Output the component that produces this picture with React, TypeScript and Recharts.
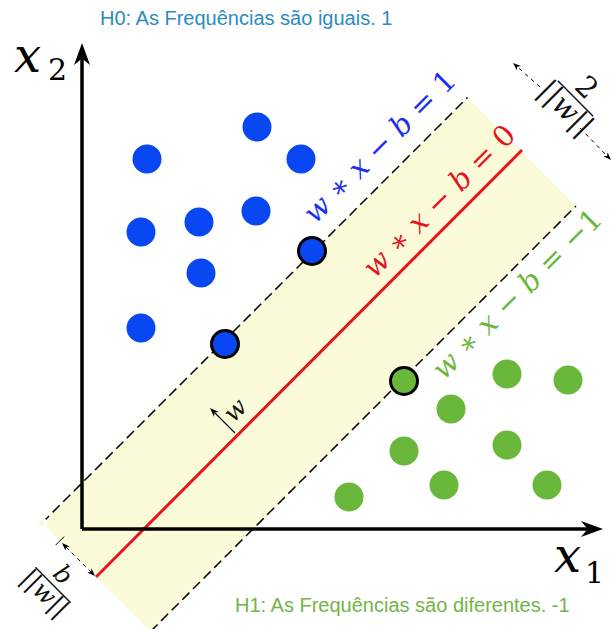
import React from 'react';
import { ComposedChart, XAxis, YAxis, Area, Scatter, ReferenceLine, ReferenceDot } from 'recharts';

// ---- data (units: 1 = 10px, origin at the axes corner) ----
const bluePoints = [
  { x: 17.5, y: 40.2 }, { x: 6.5, y: 37.0 }, { x: 21.9, y: 37.0 }, { x: 17.4, y: 31.8 },
  { x: 11.7, y: 30.7 }, { x: 5.9, y: 29.7 }, { x: 11.9, y: 25.6 }, { x: 5.9, y: 20.1 },
];
const blueSupport = [{ x: 23.0, y: 27.8 }, { x: 14.3, y: 18.5 }];
const greenPoints = [
  { x: 42.5, y: 15.5 }, { x: 48.6, y: 14.9 }, { x: 36.9, y: 12.0 }, { x: 42.5, y: 8.4 },
  { x: 32.2, y: 7.8 }, { x: 26.7, y: 3.2 }, { x: 36.2, y: 4.4 }, { x: 46.5, y: 4.4 },
];
const greenSupport = [{ x: 32.2, y: 14.8 }];

const marginBand = [
  { x: -4.0, range: [0.6, 0.6] },
  { x: 6.85, range: [-10.25, 11.45] },
  { x: 38.55, range: [21.45, 43.15] },
  { x: 49.4, range: [32.3, 32.3] },
];

const upperMargin = [{ x: -4.0, y: 0.6 }, { x: 38.55, y: 43.15 }];
const hyperplane = [{ x: 1.4, y: -4.8 }, { x: 44.0, y: 37.9 }];
const lowerMargin = [{ x: 6.85, y: -10.25 }, { x: 49.4, y: 32.3 }];

const xAxisLine = [{ x: 0, y: 0 }, { x: 52.1, y: 0 }];
const yAxisLine = [{ x: 0, y: 0 }, { x: 0, y: 48.6 }];

const marginArrowA = [{ x: 45.8, y: 44.2 }, { x: 43.1, y: 46.6 }];
const marginArrowB = [{ x: 49.8, y: 40.1 }, { x: 52.9, y: 36.9 }];
const offsetArrow = [{ x: -2.0, y: -1.4 }, { x: 1.3, y: -4.7 }];
const normalArrow = [{ x: 15.3, y: 9.6 }, { x: 12.8, y: 12.1 }];

const titleTop = 'H0: As Frequências são iguais. 1';
const titleBottom = 'H1: As Frequências são diferentes. -1';
const eqPlus = [['w', 1], [' ', 0], ['∗', 2], [' ', 0], ['x', 1], [' − ', 0], ['b', 1], [' = 1', 0]];
const eqZero = [['w', 1], [' ', 0], ['∗', 2], [' ', 0], ['x', 1], [' − ', 0], ['b', 1], [' = 0', 0]];
const eqMinus = [['w', 1], [' ', 0], ['∗', 2], [' ', 0], ['x', 1], [' − ', 0], ['b', 1], [' = −1', 0]];

// ---- styles ----
const BLUE = '#0847f2';
const GREEN = '#69b83b';
const RED = '#e5141f';
const BAND = '#fbfbd9';
const SERIF = "'DejaVu Serif','Liberation Serif',serif";
const SANS = "'Liberation Sans',Arial,sans-serif";

function arrowHead(tx: number, ty: number, fx: number, fy: number, len: number, half: number) {
  const dx = tx - fx, dy = ty - fy;
  const d = Math.hypot(dx, dy) || 1;
  const ux = dx / d, uy = dy / d;
  const nx = -uy, ny = ux;
  const bx = tx - ux * len, by = ty - uy * len;
  const mx = tx - ux * len * 0.7, my = ty - uy * len * 0.7;
  return `M${tx},${ty} L${bx + nx * half},${by + ny * half} L${mx},${my} L${bx - nx * half},${by - ny * half} Z`;
}

type ArrowOpts = { stroke: string; width: number; dash?: string; end?: boolean; start?: boolean; len?: number; half?: number; tick?: boolean };

const arrowShape = (o: ArrowOpts) => (p: any) => {
  const { x1, y1, x2, y2 } = p;
  const len = o.len ?? 10, half = o.half ?? 4;
  const d = Math.hypot(x2 - x1, y2 - y1) || 1;
  const ux = (x2 - x1) / d, uy = (y2 - y1) / d;
  const sx = o.start ? x1 + ux * len * 0.7 : x1;
  const sy = o.start ? y1 + uy * len * 0.7 : y1;
  const ex = o.end ? x2 - ux * len * 0.7 : x2;
  const ey = o.end ? y2 - uy * len * 0.7 : y2;
  return (
    <g>
      <line x1={sx} y1={sy} x2={ex} y2={ey} stroke={o.stroke} strokeWidth={o.width} strokeDasharray={o.dash} />
      {o.end && <path d={arrowHead(x2, y2, x1, y1, len, half)} fill={o.stroke} />}
      {o.start && <path d={arrowHead(x1, y1, x2, y2, len, half)} fill={o.stroke} />}
      {o.tick && (
        <line x1={x1 - ux * 3 + uy * 6} y1={y1 - uy * 3 - ux * 6} x2={x1 - ux * 3 - uy * 6} y2={y1 - uy * 3 + ux * 6} stroke={o.stroke} strokeWidth={1} />
      )}
    </g>
  );
};

const plainLine = (stroke: string, width: number, dash?: string) => (p: any) => (
  <line x1={p.x1} y1={p.y1} x2={p.x2} y2={p.y2} stroke={stroke} strokeWidth={width} strokeDasharray={dash} />
);

const mathText = (parts: any[], size: number, color: string, angle: number) => (p: any) => (
  <text
    x={p.cx}
    y={p.cy}
    fill={color}
    fontSize={size}
    fontFamily={SERIF}
    textAnchor="middle"
    transform={`rotate(${angle} ${p.cx} ${p.cy})`}
  >
    {parts.map(([t, it]: any, i: number) => (
      <tspan key={i} fontStyle={it === 1 ? 'italic' : 'normal'} fontWeight="normal">{t}</tspan>
    ))}
  </text>
);

const plainText = (t: string, size: number, color: string, family: string, italic = false, anchor = 'start') => (p: any) => (
  <text x={p.cx} y={p.cy} fill={color} fontSize={size} fontFamily={family} fontStyle={italic ? 'italic' : 'normal'} textAnchor={anchor as any}>
    {t}
  </text>
);

const fraction = (num: string, numItalic: boolean, size: number) => (p: any) => (
  <g transform={`translate(${p.cx} ${p.cy}) rotate(45)`} fontFamily={SERIF} fill="#111">
    <text x={0} y={-6} textAnchor="middle" fontSize={size} fontStyle={numItalic ? 'italic' : 'normal'}>{num}</text>
    <line x1={-25} y1={0} x2={25} y2={0} stroke="#111" strokeWidth={1.4} />
    <text x={0} y={size * 0.8} textAnchor="middle" fontSize={size}>
      <tspan>||</tspan>
      <tspan fontStyle="italic">w</tspan>
      <tspan>||</tspan>
    </text>
  </g>
);

const dot = (fill: string, outline: boolean) => (p: any) => (
  <circle cx={p.cx} cy={p.cy} r={outline ? 13.5 : 14.5} fill={fill} stroke={outline ? '#000' : 'none'} strokeWidth={outline ? 3 : 0} />
);

export default function App() {
  return (
    <div style={{ position: 'absolute', left: 0, top: 0, width: 612, height: 629, background: '#fff' }}>
      <ComposedChart width={612} height={629} data={marginBand} margin={{ top: 0, right: 0, bottom: 0, left: 0 }}>
        <XAxis dataKey="x" type="number" domain={[-8.2, 53]} allowDataOverflow hide />
        <YAxis dataKey="y" type="number" domain={[-10, 52.9]} allowDataOverflow hide />
        <Area dataKey="range" type="linear" fill={BAND} fillOpacity={1} stroke="none" isAnimationActive={false} />

        <ReferenceLine segment={upperMargin} ifOverflow="visible" shape={plainLine('#000', 1.5, '10 5')} />
        <ReferenceLine segment={lowerMargin} ifOverflow="visible" shape={plainLine('#000', 1.5, '10 5')} />
        <ReferenceLine segment={hyperplane} ifOverflow="visible" shape={plainLine(RED, 3)} />
        <ReferenceLine segment={xAxisLine} ifOverflow="visible" shape={arrowShape({ stroke: '#000', width: 3.5, end: true, len: 22, half: 8 })} />
        <ReferenceLine segment={yAxisLine} ifOverflow="visible" shape={arrowShape({ stroke: '#000', width: 3.5, end: true, len: 22, half: 8 })} />
        <ReferenceLine segment={marginArrowA} ifOverflow="visible" shape={arrowShape({ stroke: '#000', width: 1, dash: '4 4', end: true, len: 8, half: 3 })} />
        <ReferenceLine segment={marginArrowB} ifOverflow="visible" shape={arrowShape({ stroke: '#000', width: 1, dash: '4 4', end: true, len: 8, half: 3 })} />
        <ReferenceLine segment={offsetArrow} ifOverflow="visible" shape={arrowShape({ stroke: '#000', width: 1, dash: '4 4', end: true, start: true, tick: true, len: 8, half: 3 })} />
        <ReferenceLine segment={normalArrow} ifOverflow="visible" shape={arrowShape({ stroke: '#000', width: 1.2, end: true, len: 9, half: 3.5 })} />

        <Scatter data={bluePoints} isAnimationActive={false} shape={dot(BLUE, false)} />
        <Scatter data={blueSupport} isAnimationActive={false} shape={dot(BLUE, true)} />
        <Scatter data={greenPoints} isAnimationActive={false} shape={dot(GREEN, false)} />
        <Scatter data={greenSupport} isAnimationActive={false} shape={dot(GREEN, true)} />

        <ReferenceDot x={30.45} y={37.55} r={0} ifOverflow="visible" shape={mathText(eqPlus, 29, '#1a2ef0', -45)} />
        <ReferenceDot x={36.4} y={32.1} r={0} ifOverflow="visible" shape={mathText(eqZero, 29, RED, -45)} />
        <ReferenceDot x={44.2} y={22.8} r={0} ifOverflow="visible" shape={mathText(eqMinus, 29, GREEN, -45)} />
        <ReferenceDot x={15.9} y={11.3} r={0} ifOverflow="visible" shape={mathText([['w', 1]], 25, '#111', -45)} />

        <ReferenceDot x={49.35} y={43.05} r={0} ifOverflow="visible" shape={fraction('2', false, 29)} />
        <ReferenceDot x={-2.9} y={-5.6} r={0} ifOverflow="visible" shape={fraction('b', true, 25)} />

        <ReferenceDot x={-6.8} y={45.7} r={0} ifOverflow="visible" shape={plainText('x', 48, '#000', SERIF, true)} />
        <ReferenceDot x={-3.4} y={44.9} r={0} ifOverflow="visible" shape={plainText('2', 30, '#000', SERIF)} />
        <ReferenceDot x={47.2} y={-4.3} r={0} ifOverflow="visible" shape={plainText('x', 48, '#000', SERIF, true)} />
        <ReferenceDot x={50.3} y={-5.4} r={0} ifOverflow="visible" shape={plainText('1', 30, '#000', SERIF)} />

        <ReferenceDot x={1.8} y={50.4} r={0} ifOverflow="visible" shape={plainText(titleTop, 20, '#2b8cc0', SANS)} />
        <ReferenceDot x={15.3} y={-8.3} r={0} ifOverflow="visible" shape={plainText(titleBottom, 20, '#74b447', SANS)} />
      </ComposedChart>
    </div>
  );
}
